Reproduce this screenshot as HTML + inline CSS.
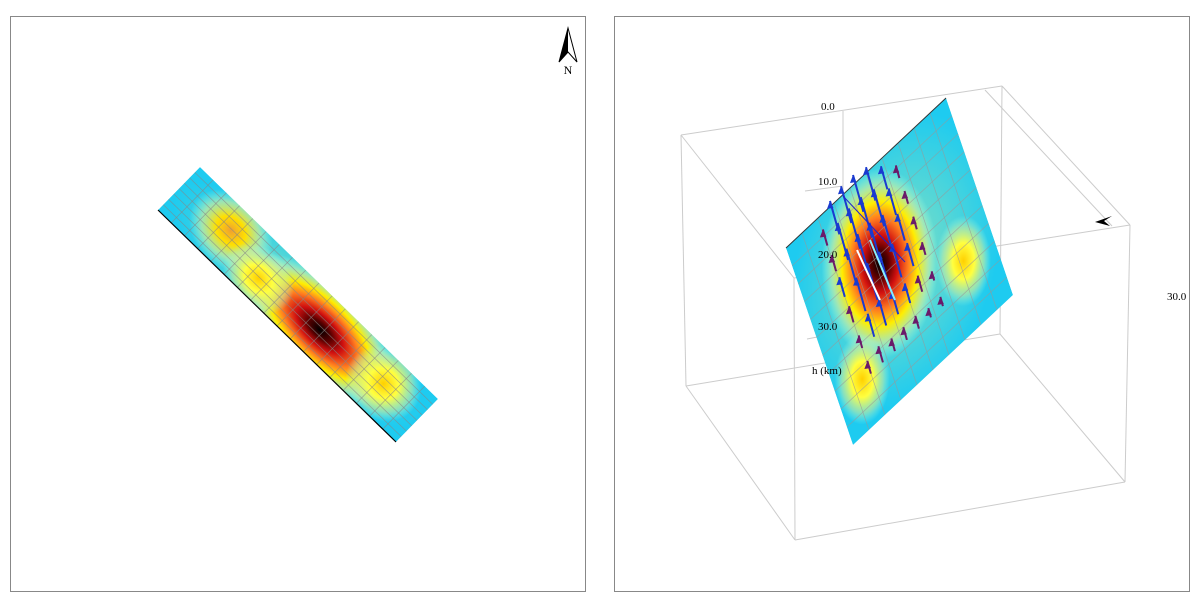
<!DOCTYPE html>
<html><head><meta charset="utf-8"><style>
body{margin:0;background:#fff;width:1202px;height:604px;overflow:hidden;font-family:"Liberation Serif",serif}
svg{position:absolute;left:0;top:0}
</style></head><body>
<svg width="1202" height="604" viewBox="0 0 1202 604">
<defs>
<radialGradient id="hot"><stop offset="0" stop-color="#000"/><stop offset="0.15" stop-color="#5a0000"/><stop offset="0.3" stop-color="#d01010"/><stop offset="0.48" stop-color="#ff7a20"/><stop offset="0.65" stop-color="#ffee00"/><stop offset="0.82" stop-color="#c0eca0" stop-opacity="0.8"/><stop offset="1" stop-color="#9fe" stop-opacity="0"/></radialGradient>
<radialGradient id="warm"><stop offset="0" stop-color="#f0a030"/><stop offset="0.35" stop-color="#ffe000"/><stop offset="0.7" stop-color="#c8eea0" stop-opacity="0.7"/><stop offset="1" stop-color="#9fe" stop-opacity="0"/></radialGradient>
<radialGradient id="mild"><stop offset="0" stop-color="#ffd000"/><stop offset="0.4" stop-color="#ffff40"/><stop offset="0.75" stop-color="#c8eea0" stop-opacity="0.6"/><stop offset="1" stop-color="#9fe" stop-opacity="0"/></radialGradient>
<radialGradient id="halo"><stop offset="0" stop-color="#a8e8b0" stop-opacity="0.8"/><stop offset="1" stop-color="#a8e8b0" stop-opacity="0"/></radialGradient>
</defs>
<rect x="10.5" y="16.5" width="575" height="575" fill="#fff" stroke="#888"/>
<rect x="614.5" y="16.5" width="575" height="575" fill="#fff" stroke="#888"/>
<g id="box" stroke="#ccc" stroke-width="1" fill="none"></g>
<g id="left"></g>
<g id="right"></g>
<g>
<polygon points="568,28 559,62 568,52 577,62" fill="#fff" stroke="#000"/>
<polygon points="568,28 568,52 559,62" fill="#000"/>
<text x="568" y="74" font-size="12" text-anchor="middle">N</text></g>
<polygon points="1095,222 1112,216 1104,221 1110,226" fill="#000"/>
<g font-size="11" fill="#000">
<text x="821" y="110">0.0</text><text x="818" y="185">10.0</text><text x="818" y="258">20.0</text><text x="818" y="330">30.0</text>
<text x="812" y="374">h (km)</text><text x="1167" y="300">30.0</text></g>
</svg>
<script>
// data
const leftBlobs=[[0.5,0.5,0.5,0.9,'halo'],[0.6,0.45,0.3,0.75,'hot'],[0.2,0.6,0.14,0.6,'warm'],[0.85,0.55,0.12,0.6,'mild'],[0.36,0.35,0.12,0.5,'mild']];
const rightBlobs=[[0.45,0.5,0.6,0.6,'halo'],[0.4,0.42,0.42,0.32,'hot'],[0.69,0.82,0.2,0.15,'mild'],[0.78,0.15,0.2,0.15,'mild']];
const slipRows=[[0.3,0.8,0.9,0.9,0.8,0.5,0.2],[0.3,0.9,1.0,1.0,0.9,0.6,0.2],[0.4,0.9,1.0,1.0,0.9,0.6,0.2],[0.3,0.8,0.9,0.9,0.8,0.5,0.2],[0.2,0.5,0.6,0.5,0.4,0.3,0.1],[0.2,0.3,0.2,0.2,0.2,0.1,0.1]];
const NS='http://www.w3.org/2000/svg';
function mk(t,a,p){const e=document.createElementNS(NS,t);for(const k in a)e.setAttribute(k,a[k]);p.appendChild(e);return e;}
let cidN=0;
function plane(parent,M,blobs,nu,nv,gridCol){
  const g=mk('g',{transform:'matrix('+M.join(',')+')'},parent);
  const cid='clip'+(cidN++);
  const cp=mk('clipPath',{id:cid},g);mk('rect',{x:0,y:0,width:1,height:1},cp);
  const inner=mk('g',{'clip-path':'url(#'+cid+')'},g);
  const bg=mk('rect',{x:0,y:0,width:1,height:1,fill:'#1ecbf0'},inner);
  
  
  blobs.forEach(b=>{const e=mk('ellipse',{cx:b[0],cy:b[1],rx:b[2],ry:b[3],fill:'url(#'+b[4]+')'},inner);
    
    });
  for(let i=1;i<nu;i++)mk('line',{x1:i/nu,y1:0,x2:i/nu,y2:1,stroke:gridCol,'stroke-width':0.7,'stroke-opacity':0.7,'vector-effect':'non-scaling-stroke'},inner);
  for(let j=1;j<nv;j++)mk('line',{x1:0,y1:j/nv,x2:1,y2:j/nv,stroke:gridCol,'stroke-width':0.7,'stroke-opacity':0.7,'vector-effect':'non-scaling-stroke'},inner);
  return g;
}
const L=document.getElementById('left');
const gl=plane(L,[238,232,42,-43,158,210],leftBlobs,18,8,'#888');
mk('line',{x1:0,y1:0,x2:1,y2:0,stroke:'#000','stroke-width':1.2,'vector-effect':'non-scaling-stroke'},gl);
const R=document.getElementById('right');
const gr=plane(R,[67,197,160,-150,786,248],rightBlobs,11,10,'#999');
mk('line',{x1:0,y1:0,x2:0,y2:1,stroke:'#333','stroke-width':1,'vector-effect':'non-scaling-stroke'},gr);
const ag=mk('g',{},R);


function P(u,v){return [786+67*u+160*v,248+197*u-150*v];}
slipRows.forEach((row,i)=>row.forEach((s,j)=>{
  const u=0.14+i*0.13,v=0.2+j*0.075;const p=P(u,v),x=p[0],y=p[1];
  const len=6+36*s;const dx=-0.27*len,dy=-0.96*len;
  const col=s>0.35?'#1a3ad0':'#6a1a6a';
  const a=mk('line',{x1:x,y1:y,x2:x+dx,y2:y+dy,stroke:col,'stroke-width':2},ag);
  
  
  mk('polygon',{points:(x+dx)+','+(y+dy)+' '+(x+dx-3)+','+(y+dy+8)+' '+(x+dx+3.5)+','+(y+dy+7),fill:col},ag);
}));
mk('line',{x1:857,y1:250,x2:880,y2:300,stroke:'#fff','stroke-width':2},ag);
mk('line',{x1:870,y1:240,x2:895,y2:300,stroke:'#8ef','stroke-width':2},ag);
mk('line',{x1:843,y1:196,x2:905,y2:262,stroke:'#22c','stroke-width':1},ag);
const B=document.getElementById('box');
const edges=[[681,135,1002,86],[1002,86,1130,225],[681,135,794,278],[794,278,1130,225],[681,135,686,386],[794,278,795,540],[1130,225,1125,482],[1002,86,1000,334],[686,386,795,540],[795,540,1125,482],[686,386,1000,334],[1000,334,1125,482],[985,90,1112,226],[843,111,843,330],[805,191,843,186],[807,339,843,332]];
edges.forEach(e=>mk('line',{x1:e[0],y1:e[1],x2:e[2],y2:e[3]},B));
</script>
</body></html>
